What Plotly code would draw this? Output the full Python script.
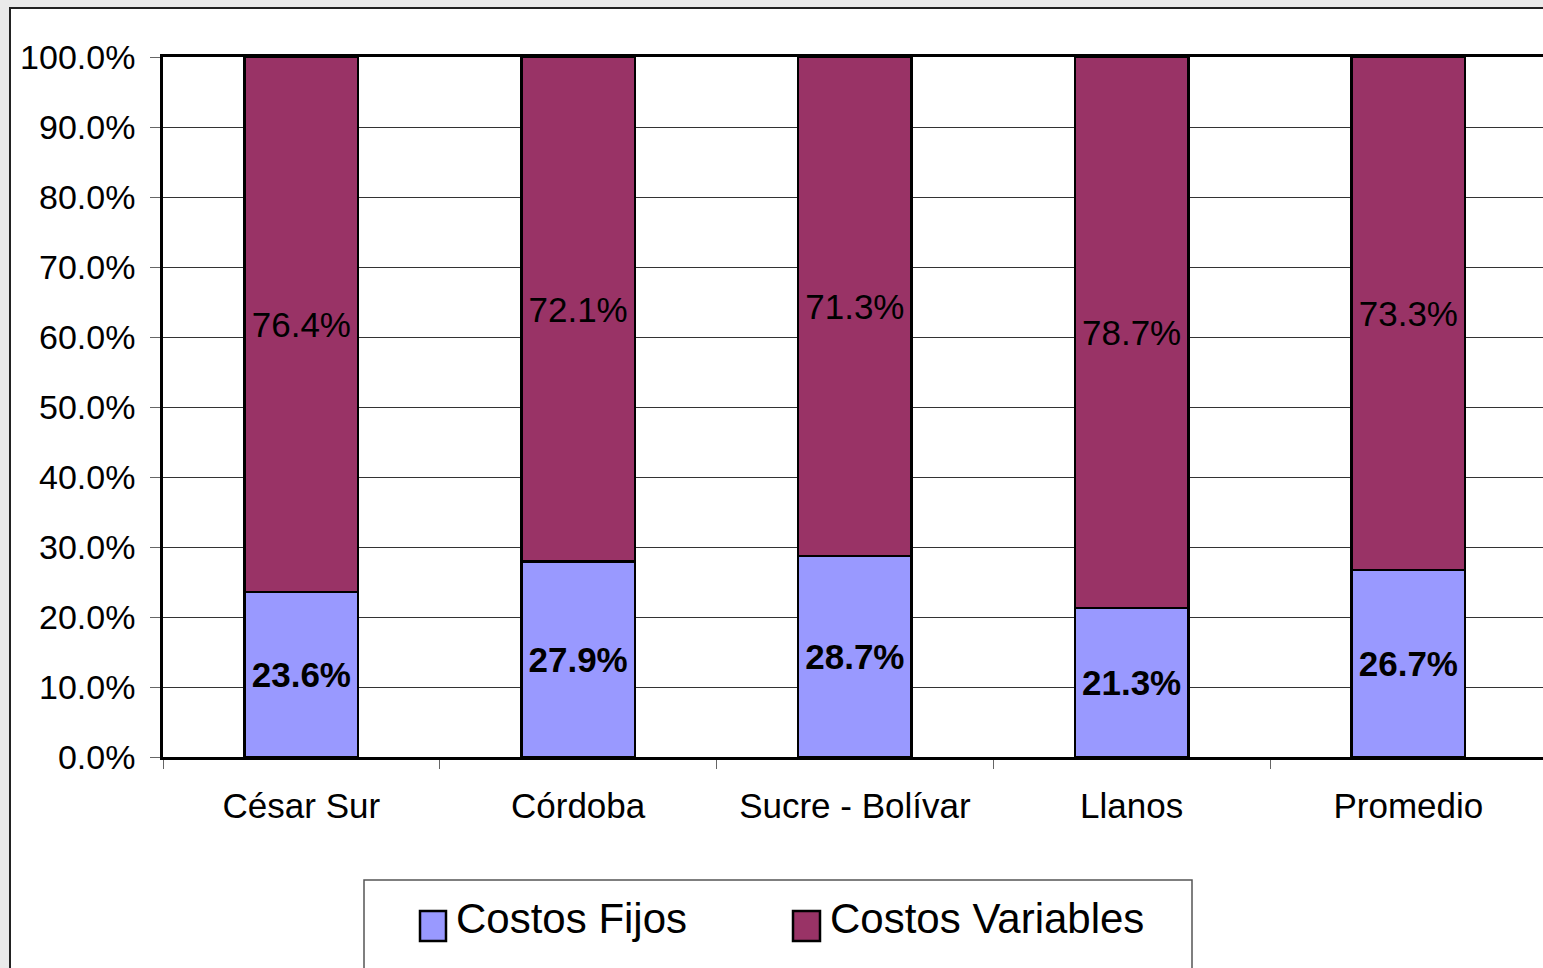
import plotly.graph_objects as go

categories = ["César Sur", "Córdoba", "Sucre - Bolívar", "Llanos", "Promedio"]
costos_fijos = [23.6, 27.9, 28.7, 21.3, 26.7]
costos_variables = [76.4, 72.1, 71.3, 78.7, 73.3]
y_ticks = [0, 10, 20, 30, 40, 50, 60, 70, 80, 90, 100]
y_tick_labels = ["0.0%", "10.0%", "20.0%", "30.0%", "40.0%", "50.0%",
                 "60.0%", "70.0%", "80.0%", "90.0%", "100.0%"]
series_names = ["Costos Fijos", "Costos Variables"]
series_colors = ["#9999FF", "#993366"]

W, H = 1543, 968
L, R, T, B = 163, 0, 57, 211
PW = W - L - R
PH = H - T - B


def px_x(x):
    return (x - L) / PW


def px_y(y):
    return (H - B - y) / PH


FONT = "Liberation Sans, Arial, sans-serif"

fig = go.Figure()
fig.add_trace(go.Bar(
    x=categories, y=costos_fijos, name=series_names[0],
    marker=dict(color=series_colors[0], line=dict(color="black", width=2.5)),
    width=0.41,
    texttemplate="<b>%{y:.1f}%</b>", textposition="inside", insidetextanchor="middle",
    textangle=0, constraintext="none",
    textfont=dict(family=FONT, size=35, color="black"),
    showlegend=False,
))
fig.add_trace(go.Bar(
    x=categories, y=costos_variables, name=series_names[1],
    marker=dict(color=series_colors[1], line=dict(color="black", width=2.5)),
    width=0.41,
    texttemplate="%{y:.1f}%", textposition="inside", insidetextanchor="middle",
    textangle=0, constraintext="none",
    textfont=dict(family=FONT, size=35, color="black"),
    showlegend=False,
))

span = PW / 276.75
fig.update_layout(
    barmode="stack",
    width=W, height=H,
    margin=dict(l=L, r=R, t=T, b=B, autoexpand=False),
    paper_bgcolor="#eaeaea",
    plot_bgcolor="white",
    font=dict(family=FONT, color="black"),
    xaxis=dict(
        range=[-0.5, -0.5 + span],
        tickson="boundaries", ticks="outside", ticklen=9, tickcolor="#666", tickwidth=1,
        showline=True, linecolor="black", linewidth=2.5, mirror=True,
        showgrid=False,
        tickfont=dict(family=FONT, size=35, color="black"),
        ticklabelstandoff=16,
    ),
    yaxis=dict(
        range=[0, 100], tickvals=y_ticks, ticktext=y_tick_labels,
        ticks="outside", ticklen=10, tickcolor="#666", tickwidth=1,
        showline=True, linecolor="black", linewidth=2.5, mirror=True,
        showgrid=True, gridcolor="#333", gridwidth=1,
        tickfont=dict(family=FONT, size=34, color="black"),
        ticklabelstandoff=8,
        zeroline=False,
    ),
)

shapes = [
    # outer white chart area with dark frame
    dict(type="rect", xref="paper", yref="paper", layer="below",
         x0=px_x(10), x1=px_x(1600), y0=px_y(1050), y1=px_y(8),
         fillcolor="white", line=dict(color="#222", width=2)),
    # legend box
    dict(type="rect", xref="paper", yref="paper",
         x0=px_x(364), x1=px_x(1192), y0=px_y(1050), y1=px_y(880),
         fillcolor="white", line=dict(color="#555", width=1.5)),
    dict(type="rect", xref="paper", yref="paper",
         x0=px_x(420), x1=px_x(446), y0=px_y(941), y1=px_y(911),
         fillcolor=series_colors[0], line=dict(color="black", width=2.5)),
    dict(type="rect", xref="paper", yref="paper",
         x0=px_x(793), x1=px_x(820), y0=px_y(941), y1=px_y(911),
         fillcolor=series_colors[1], line=dict(color="black", width=2.5)),
]
fig.update_layout(shapes=shapes)

fig.add_annotation(text=series_names[0], xref="paper", yref="paper",
                   x=px_x(454), y=px_y(918), xanchor="left", yanchor="middle",
                   showarrow=False, font=dict(family=FONT, size=42, color="black"))
fig.add_annotation(text=series_names[1], xref="paper", yref="paper",
                   x=px_x(828), y=px_y(918), xanchor="left", yanchor="middle",
                   showarrow=False, font=dict(family=FONT, size=42, color="black"))

fig.write_html(
    "out.html",
    config={"displayModeBar": False},
    post_script="document.body.style.margin='0';document.body.style.background='#eaeaea';document.body.style.overflow='hidden';",
)
